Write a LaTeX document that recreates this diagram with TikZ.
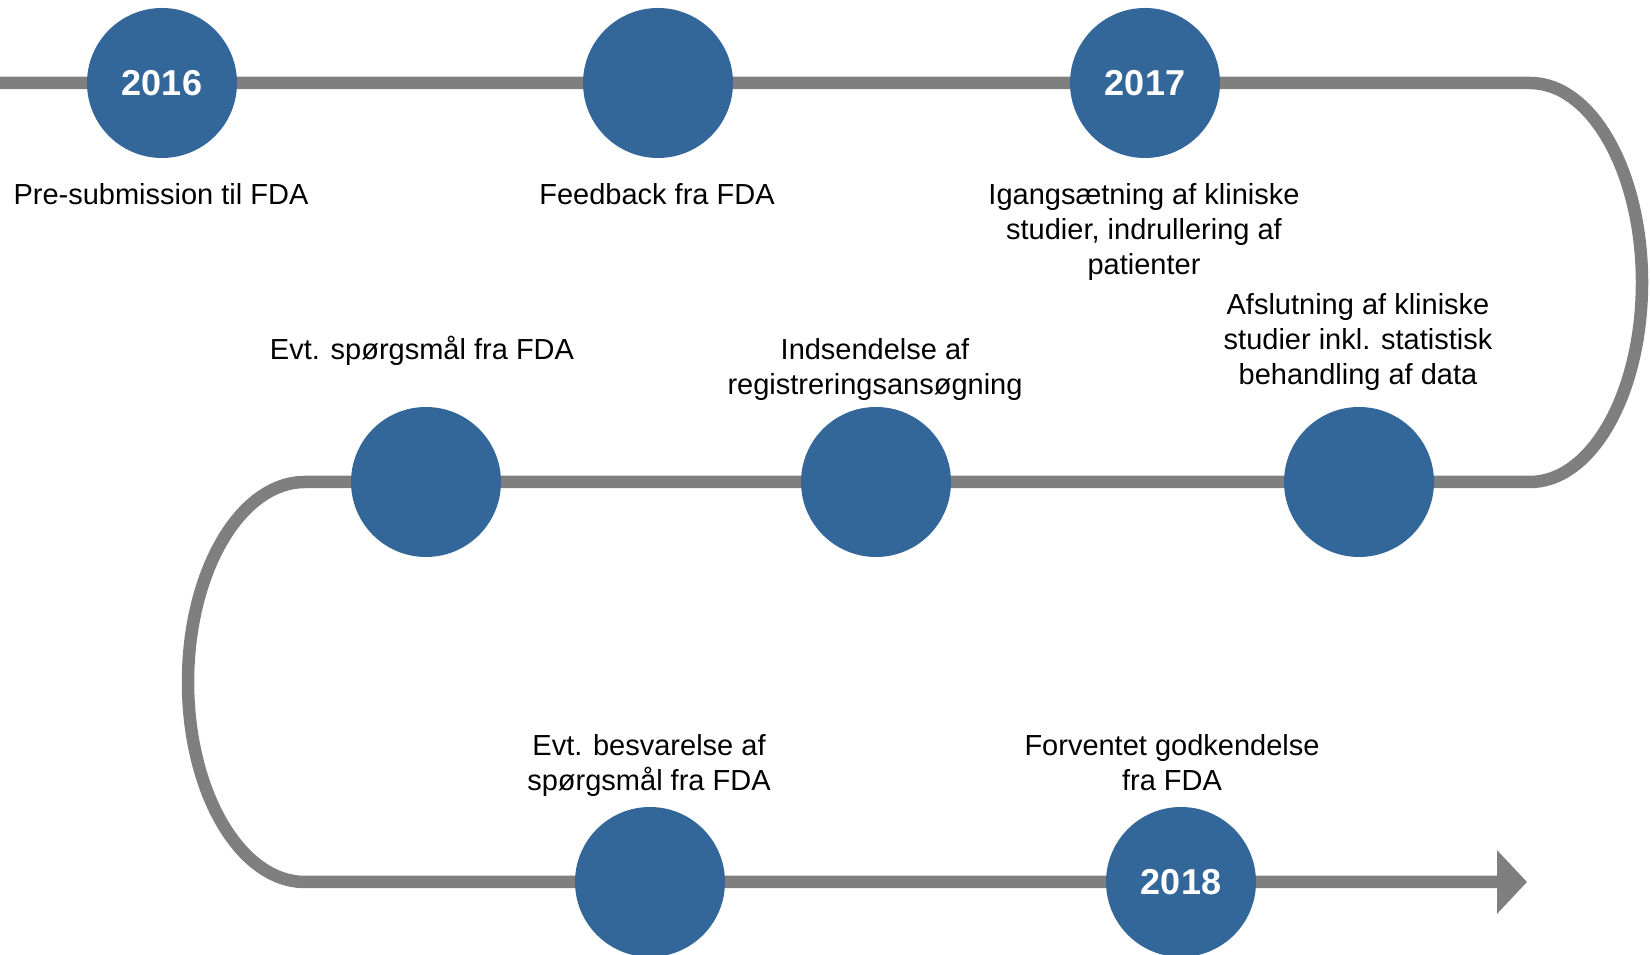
\documentclass[tikz,border=0pt]{standalone}
\usepackage{fontspec}
\setmainfont{Liberation Sans}
\usetikzlibrary{arrows.meta,backgrounds}
\definecolor{dotblue}{RGB}{51,103,153}
\definecolor{lineg}{RGB}{127,127,127}
\begin{document}
\begin{tikzpicture}[x=1pt,y=1pt,
  milestone/.style={circle, fill=dotblue, minimum size=150pt, inner sep=0pt, text=white, font=\fontsize{36}{40}\selectfont\bfseries},
  msglabel/.style={align=center, anchor=north, inner sep=0pt, font=\fontsize{29}{35}\selectfont},
  track/.style={draw=lineg, line width=12.5pt}]
\useasboundingbox (0,0) rectangle (1651,955);
% milestones
\node[milestone] (m1) at (162,872) {2016};
\node[milestone] (m2) at (658,872) {};
\node[milestone] (m3) at (1145,872) {2017};
\node[milestone] (m6) at (1359,473) {};
\node[milestone] (m5) at (876,473) {};
\node[milestone] (m4) at (426,473) {};
\node[milestone] (m7) at (650,73) {};
\node[milestone] (m8) at (1181,73) {2018};
% labels
\node[msglabel] (t1) at (161,772) {Pre-submission til FDA};
\node[msglabel] (t2) at (657,772) {Feedback fra FDA};
\node[msglabel] (t3) at (1144,772) {Igangsætning af kliniske\\studier, indrullering af\\patienter};
\node[msglabel] (t4) at (422,619) {Evt. spørgsmål fra FDA};
\node[msglabel] (t5) at (875,617) {Indsendelse af\\registreringsansøgning};
\node[msglabel] (t6) at (1358,662) {Afslutning af kliniske\\studier inkl. statistisk\\behandling af data};
\node[msglabel] (t7) at (649,221) {Evt. besvarelse af\\spørgsmål fra FDA};
\node[msglabel] (t8) at (1172,221) {Forventet godkendelse\\fra FDA};
% track
\coordinate (start) at (0,872);
\coordinate (rtop) at (1530,872);
\coordinate (ltop) at (305,473);
\coordinate (tip) at (1527,73);
\begin{scope}[on background layer]
\draw[track, -{Triangle[length=30pt,width=62pt]}]
  (start) -- (m1.center) -- (m2.center) -- (m3.center) -- (rtop)
  arc[start angle=90, end angle=-90, x radius=112, y radius=199.5]
  -- (m6.center) -- (m5.center) -- (m4.center) -- (ltop)
  arc[start angle=90, end angle=270, x radius=117, y radius=200]
  -- (m7.center) -- (m8.center) -- (tip);
\end{scope}
\end{tikzpicture}
\end{document}
